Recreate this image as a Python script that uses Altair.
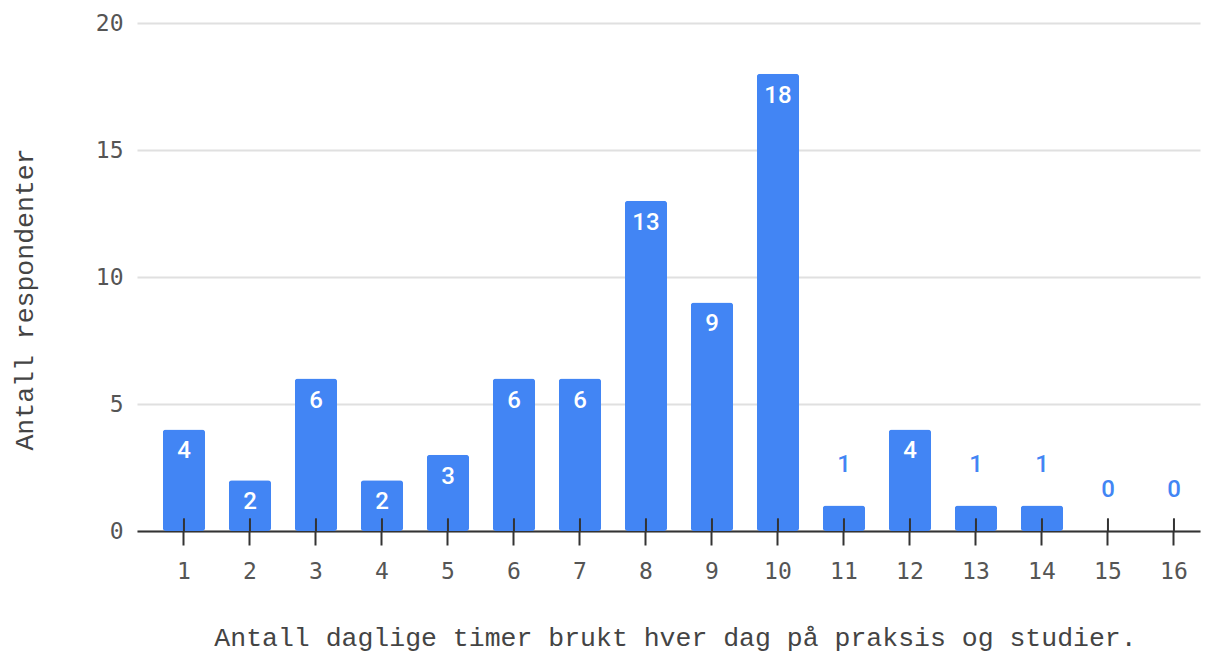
import altair as alt
import pandas as pd

hours = [str(i) for i in range(1, 17)]
counts = [4, 2, 6, 2, 3, 6, 6, 13, 9, 18, 1, 4, 1, 1, 0, 0]
y_ticks = [0, 5, 10, 15, 20]

x_title = "Antall daglige timer brukt hver dag på praksis og studier."
y_title = "Antall respondenter"

df = pd.DataFrame({"hour": hours, "count": counts})
df["tick_top"] = 0.5

BLUE = "#4285F4"

x_scale = alt.Scale(paddingInner=0.36, paddingOuter=0.233, align=0.84)

x_enc = alt.X(
    "hour:N",
    sort=hours,
    scale=x_scale,
    axis=alt.Axis(
        title=x_title,
        labelAngle=0,
        labelFont="DejaVu Sans Mono",
        labelFontSize=23,
        labelColor="#555555",
        labelPadding=15,
        tickSize=14,
        tickWidth=2,
        tickColor="#333333",
        domainColor="#333333",
        domainWidth=2,
        titleFont="Liberation Mono",
        titleFontSize=26.5,
        titleFontWeight="normal",
        titleColor="#444444",
        titlePadding=41,
        titleX=538,
    ),
)

y_scale = alt.Scale(domain=[0, 20])

bars = alt.Chart(df).mark_bar(color=BLUE, cornerRadius=3).encode(
    x=x_enc,
    y=alt.Y(
        "count:Q",
        scale=y_scale,
        axis=alt.Axis(
            title=y_title,
            values=y_ticks,
            domain=False,
            ticks=False,
            gridColor="#e0e0e0",
            gridWidth=1.8,
            labelFont="DejaVu Sans Mono",
            labelFontSize=23,
            labelColor="#555555",
            labelPadding=14,
            titleFont="Liberation Mono",
            titleFontSize=26.5,
            titleFontWeight="normal",
            titleColor="#444444",
            titleX=-99,
            titleY=276,
        ),
    ),
)

tick_up = alt.Chart(df).mark_rule(color="#333333", strokeWidth=2).encode(
    x=alt.X("hour:N", sort=hours, scale=x_scale),
    y=alt.Y("tick_top:Q", scale=y_scale),
    y2=alt.datum(0),
)

inside = alt.Chart(df).transform_filter("datum.count >= 2").mark_text(
    color="white", font="Roboto", fontSize=24, fontWeight=500, baseline="middle", dy=22
).encode(
    x=alt.X("hour:N", sort=hours, scale=x_scale),
    y=alt.Y("count:Q", scale=y_scale),
    text="count:Q",
)

outside = alt.Chart(df).transform_filter("datum.count < 2").mark_text(
    color=BLUE, font="Roboto", fontSize=24, fontWeight=500, baseline="middle", dy=-41
).encode(
    x=alt.X("hour:N", sort=hours, scale=x_scale),
    y=alt.Y("count:Q", scale=y_scale),
    text="count:Q",
)

chart = (
    alt.layer(bars, tick_up, inside, outside)
    .properties(
        width=1063,
        height=508,
        autosize=alt.AutoSizeParams(type="none"),
        padding={"left": 129, "top": 15, "right": 7, "bottom": 120},
    )
    .configure_view(stroke=None)
)

chart.save("out.html", embed_options={"renderer": "svg", "actions": False})
